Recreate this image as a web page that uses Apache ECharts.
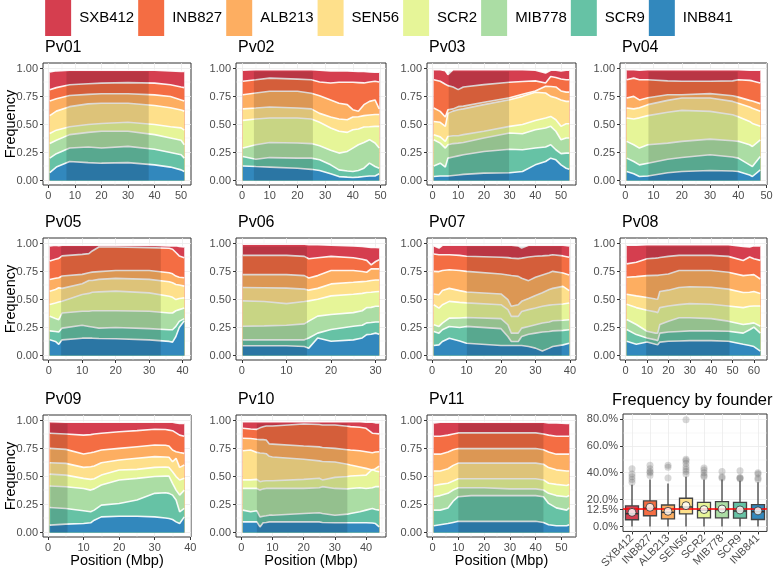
<!DOCTYPE html>
<html><head><meta charset="utf-8">
<script src="https://cdn.jsdelivr.net/npm/echarts@6/dist/echarts.min.js"></script>
<style>html,body{margin:0;padding:0;background:#fff}#c{width:778px;height:571px}</style>
</head><body><div id="c"></div>
<script>
// ---------- DATA ----------
const founders = ['SXB412','INB827','ALB213','SEN56','SCR2','MIB778','SCR9','INB841'];
const founderColors = ['#D53E4F','#F46D43','#FDAE61','#FEE08B','#E6F598','#ABDDA4','#66C2A5','#3288BD'];
// edge rows: upper edge of each founder band, bottom to top:
// INB841, SCR9, MIB778, SCR2, SEN56, ALB213, INB827, SXB412
const stackOrder = ['INB841','SCR9','MIB778','SCR2','SEN56','ALB213','INB827','SXB412'];
const chromNames = ['Pv01','Pv02','Pv03','Pv04','Pv05','Pv06','Pv07','Pv08','Pv09','Pv10','Pv11'];

const pv01_pos = [0.5, 3, 8, 15, 20, 30, 40, 46, 50, 51.2];
const pv01_edges = [
  [0.07, 0.12, 0.17, 0.16, 0.155, 0.16, 0.14, 0.12, 0.095, 0.08],
  [0.20, 0.24, 0.29, 0.30, 0.29, 0.305, 0.28, 0.25, 0.23, 0.20],
  [0.33, 0.36, 0.41, 0.43, 0.44, 0.44, 0.41, 0.38, 0.36, 0.32],
  [0.42, 0.45, 0.48, 0.50, 0.51, 0.52, 0.50, 0.48, 0.47, 0.45],
  [0.58, 0.62, 0.66, 0.685, 0.69, 0.69, 0.67, 0.65, 0.63, 0.62],
  [0.71, 0.73, 0.76, 0.77, 0.775, 0.775, 0.765, 0.75, 0.72, 0.71],
  [0.81, 0.83, 0.855, 0.865, 0.87, 0.875, 0.87, 0.855, 0.835, 0.83],
  [0.97, 0.98, 0.985, 0.985, 0.985, 0.985, 0.985, 0.98, 0.975, 0.975]
];
const pv02_pos = [0.3, 5, 10, 20, 25, 28, 32, 35, 38, 40, 42, 44, 46, 48, 49.5];
const pv02_edges = [
  [0.13, 0.125, 0.12, 0.11, 0.10, 0.09, 0.06, 0.035, 0.03, 0.027, 0.03, 0.036, 0.04, 0.04, 0.06],
  [0.215, 0.19, 0.205, 0.20, 0.20, 0.185, 0.14, 0.095, 0.085, 0.08, 0.09, 0.11, 0.155, 0.125, 0.11],
  [0.29, 0.32, 0.34, 0.335, 0.33, 0.31, 0.27, 0.245, 0.26, 0.29, 0.32, 0.34, 0.365, 0.335, 0.29],
  [0.537, 0.55, 0.558, 0.558, 0.55, 0.52, 0.47, 0.44, 0.43, 0.454, 0.46, 0.478, 0.48, 0.484, 0.484],
  [0.64, 0.648, 0.657, 0.648, 0.64, 0.60, 0.567, 0.55, 0.543, 0.567, 0.57, 0.58, 0.585, 0.59, 0.59],
  [0.767, 0.782, 0.797, 0.797, 0.78, 0.758, 0.72, 0.69, 0.678, 0.633, 0.618, 0.678, 0.707, 0.72, 0.64],
  [0.887, 0.90, 0.915, 0.906, 0.90, 0.88, 0.872, 0.878, 0.878, 0.878, 0.875, 0.872, 0.88, 0.887, 0.88],
  [0.985, 0.99, 0.99, 0.99, 0.99, 0.985, 0.98, 0.98, 0.978, 0.976, 0.975, 0.975, 0.97, 0.967, 0.967]
];
const pv03_pos = [0.5, 3, 5, 6, 8, 10, 12, 20, 30, 35, 40, 44, 46, 48, 50, 52, 53.2];
const pv03_edges = [
  [0.036, 0.04, 0.04, 0.04, 0.045, 0.05, 0.055, 0.066, 0.07, 0.08, 0.14, 0.17, 0.20, 0.185, 0.14, 0.11, 0.10],
  [0.13, 0.155, 0.12, 0.20, 0.21, 0.22, 0.23, 0.26, 0.28, 0.275, 0.29, 0.30, 0.32, 0.275, 0.24, 0.245, 0.245],
  [0.364, 0.334, 0.29, 0.32, 0.33, 0.334, 0.34, 0.38, 0.424, 0.418, 0.454, 0.47, 0.484, 0.44, 0.364, 0.38, 0.38],
  [0.41, 0.39, 0.35, 0.394, 0.40, 0.40, 0.41, 0.44, 0.484, 0.50, 0.537, 0.558, 0.573, 0.543, 0.484, 0.507, 0.507],
  [0.528, 0.52, 0.484, 0.60, 0.62, 0.633, 0.64, 0.678, 0.722, 0.752, 0.788, 0.782, 0.752, 0.74, 0.72, 0.707, 0.707],
  [0.648, 0.618, 0.567, 0.633, 0.64, 0.66, 0.665, 0.70, 0.74, 0.77, 0.80, 0.842, 0.84, 0.836, 0.80, 0.79, 0.79],
  [0.90, 0.887, 0.86, 0.848, 0.836, 0.812, 0.836, 0.857, 0.878, 0.885, 0.89, 0.872, 0.93, 0.92, 0.907, 0.90, 0.90],
  [0.99, 0.99, 0.98, 0.946, 0.99, 0.99, 0.99, 0.99, 0.99, 0.99, 0.985, 0.96, 0.985, 0.985, 0.98, 0.985, 0.985]
];
const pv04_pos = [0.5, 3, 5, 8, 15, 20, 30, 38, 40, 44, 45, 47.8];
const pv04_edges = [
  [0.08, 0.06, 0.036, 0.04, 0.07, 0.08, 0.09, 0.085, 0.08, 0.05, 0.036, 0.095],
  [0.20, 0.17, 0.14, 0.155, 0.19, 0.206, 0.23, 0.21, 0.20, 0.14, 0.125, 0.215],
  [0.35, 0.32, 0.29, 0.32, 0.334, 0.35, 0.37, 0.355, 0.35, 0.32, 0.304, 0.364],
  [0.558, 0.55, 0.56, 0.58, 0.61, 0.627, 0.618, 0.588, 0.57, 0.528, 0.51, 0.484],
  [0.648, 0.64, 0.65, 0.678, 0.716, 0.737, 0.737, 0.707, 0.69, 0.657, 0.645, 0.618],
  [0.737, 0.752, 0.72, 0.74, 0.767, 0.767, 0.776, 0.758, 0.745, 0.716, 0.71, 0.687],
  [0.90, 0.915, 0.90, 0.90, 0.89, 0.887, 0.887, 0.89, 0.90, 0.895, 0.89, 0.872],
  [0.99, 0.99, 0.985, 0.99, 0.99, 0.99, 0.99, 0.99, 0.99, 0.985, 0.985, 0.985]
];
const pv05_pos = [0.3, 2, 3, 4, 10, 12, 13, 15, 20, 30, 36, 37, 38, 39, 40.5];
const pv05_edges = [
  [0.14, 0.126, 0.10, 0.14, 0.155, 0.155, 0.155, 0.152, 0.15, 0.14, 0.126, 0.12, 0.17, 0.25, 0.31],
  [0.22, 0.215, 0.21, 0.245, 0.27, 0.26, 0.255, 0.245, 0.25, 0.24, 0.23, 0.23, 0.26, 0.305, 0.33],
  [0.35, 0.33, 0.32, 0.38, 0.395, 0.395, 0.40, 0.40, 0.40, 0.395, 0.38, 0.38, 0.40, 0.41, 0.425],
  [0.455, 0.47, 0.479, 0.485, 0.545, 0.555, 0.565, 0.569, 0.575, 0.56, 0.53, 0.52, 0.50, 0.51, 0.515],
  [0.575, 0.59, 0.605, 0.60, 0.641, 0.67, 0.67, 0.68, 0.689, 0.68, 0.659, 0.65, 0.635, 0.63, 0.62],
  [0.68, 0.69, 0.695, 0.71, 0.725, 0.74, 0.745, 0.75, 0.76, 0.76, 0.74, 0.73, 0.71, 0.70, 0.695],
  [0.845, 0.86, 0.868, 0.89, 0.904, 0.91, 0.934, 0.97, 0.97, 0.964, 0.958, 0.95, 0.92, 0.89, 0.874],
  [0.98, 0.985, 0.98, 0.985, 0.985, 0.985, 0.985, 0.985, 0.985, 0.985, 0.98, 0.98, 0.98, 0.975, 0.97]
];
const pv06_pos = [0.2, 5, 10, 14, 15, 17, 20, 25, 27, 28, 29, 30, 30.8];
const pv06_edges = [
  [0.087, 0.087, 0.087, 0.08, 0.066, 0.157, 0.127, 0.14, 0.157, 0.187, 0.19, 0.2, 0.19],
  [0.14, 0.14, 0.14, 0.14, 0.157, 0.20, 0.232, 0.262, 0.27, 0.292, 0.295, 0.30, 0.30],
  [0.262, 0.265, 0.27, 0.283, 0.307, 0.352, 0.367, 0.383, 0.40, 0.428, 0.43, 0.44, 0.44],
  [0.488, 0.482, 0.464, 0.482, 0.488, 0.503, 0.533, 0.548, 0.555, 0.563, 0.565, 0.57, 0.572],
  [0.608, 0.605, 0.602, 0.593, 0.584, 0.60, 0.64, 0.654, 0.66, 0.663, 0.67, 0.675, 0.675],
  [0.723, 0.723, 0.723, 0.714, 0.693, 0.714, 0.759, 0.759, 0.75, 0.744, 0.774, 0.774, 0.774],
  [0.895, 0.895, 0.895, 0.886, 0.864, 0.873, 0.886, 0.873, 0.86, 0.85, 0.81, 0.84, 0.855],
  [0.994, 0.994, 0.994, 0.994, 0.99, 0.99, 0.985, 0.98, 0.975, 0.97, 0.965, 0.965, 0.964]
];
const pv07_pos = [0.5, 2, 3, 5, 8, 10, 20, 22, 23, 25, 26, 28, 30, 32, 34, 35, 38, 39.8];
const pv07_edges = [
  [0.09, 0.095, 0.125, 0.155, 0.13, 0.11, 0.09, 0.09, 0.09, 0.09, 0.09, 0.08, 0.066, 0.04, 0.066, 0.08, 0.095, 0.11],
  [0.215, 0.20, 0.23, 0.26, 0.25, 0.26, 0.24, 0.17, 0.125, 0.125, 0.17, 0.19, 0.20, 0.21, 0.215, 0.22, 0.225, 0.23],
  [0.275, 0.26, 0.29, 0.334, 0.335, 0.34, 0.33, 0.275, 0.20, 0.20, 0.245, 0.26, 0.275, 0.29, 0.30, 0.31, 0.315, 0.32],
  [0.454, 0.424, 0.454, 0.484, 0.475, 0.47, 0.454, 0.41, 0.35, 0.35, 0.394, 0.41, 0.424, 0.44, 0.45, 0.454, 0.46, 0.47],
  [0.55, 0.543, 0.58, 0.60, 0.58, 0.567, 0.55, 0.50, 0.44, 0.454, 0.484, 0.51, 0.537, 0.56, 0.59, 0.60, 0.618, 0.58],
  [0.752, 0.75, 0.76, 0.767, 0.76, 0.752, 0.728, 0.72, 0.715, 0.707, 0.69, 0.669, 0.699, 0.72, 0.74, 0.752, 0.737, 0.72],
  [0.907, 0.90, 0.90, 0.90, 0.895, 0.887, 0.878, 0.875, 0.87, 0.866, 0.87, 0.88, 0.887, 0.89, 0.895, 0.90, 0.89, 0.878],
  [0.98, 0.96, 0.985, 0.985, 0.985, 0.985, 0.985, 0.985, 0.985, 0.98, 0.96, 0.985, 0.985, 0.985, 0.985, 0.985, 0.985, 0.98]
];
const pv08_pos = [0.5, 5, 10, 14, 15, 16, 20, 25, 30, 40, 48, 55, 58, 60, 63];
const pv08_edges = [
  [0.127, 0.10, 0.12, 0.10, 0.096, 0.12, 0.127, 0.13, 0.133, 0.133, 0.127, 0.10, 0.09, 0.08, 0.04],
  [0.232, 0.187, 0.157, 0.14, 0.133, 0.20, 0.21, 0.215, 0.22, 0.22, 0.217, 0.20, 0.23, 0.253, 0.20],
  [0.322, 0.277, 0.217, 0.20, 0.20, 0.277, 0.307, 0.337, 0.337, 0.33, 0.307, 0.277, 0.285, 0.292, 0.262],
  [0.458, 0.428, 0.404, 0.39, 0.383, 0.428, 0.443, 0.455, 0.464, 0.458, 0.443, 0.428, 0.44, 0.443, 0.443],
  [0.548, 0.533, 0.518, 0.505, 0.503, 0.572, 0.584, 0.608, 0.614, 0.61, 0.593, 0.563, 0.565, 0.572, 0.554],
  [0.70, 0.705, 0.714, 0.716, 0.716, 0.72, 0.729, 0.759, 0.759, 0.759, 0.744, 0.714, 0.72, 0.723, 0.684],
  [0.819, 0.834, 0.864, 0.87, 0.872, 0.876, 0.886, 0.895, 0.895, 0.895, 0.886, 0.849, 0.88, 0.864, 0.85],
  [0.985, 0.985, 0.99, 0.99, 0.99, 0.99, 0.99, 0.99, 0.99, 0.99, 0.99, 0.975, 0.97, 0.98, 0.98]
];
const pv09_pos = [0.5, 5, 10, 12, 13, 15, 20, 25, 30, 33, 34, 35, 36, 37, 38.3];
const pv09_edges = [
  [0.066, 0.075, 0.08, 0.087, 0.11, 0.14, 0.146, 0.145, 0.14, 0.13, 0.125, 0.116, 0.095, 0.08, 0.14],
  [0.224, 0.215, 0.194, 0.185, 0.20, 0.245, 0.26, 0.29, 0.35, 0.355, 0.35, 0.334, 0.29, 0.185, 0.215],
  [0.415, 0.409, 0.394, 0.379, 0.39, 0.424, 0.469, 0.484, 0.50, 0.504, 0.504, 0.44, 0.379, 0.334, 0.379],
  [0.522, 0.513, 0.484, 0.475, 0.48, 0.513, 0.558, 0.564, 0.582, 0.585, 0.582, 0.543, 0.50, 0.469, 0.484],
  [0.624, 0.618, 0.582, 0.588, 0.595, 0.624, 0.648, 0.663, 0.678, 0.675, 0.672, 0.633, 0.663, 0.582, 0.603],
  [0.752, 0.743, 0.702, 0.713, 0.72, 0.737, 0.752, 0.767, 0.782, 0.78, 0.773, 0.737, 0.722, 0.715, 0.707],
  [0.887, 0.88, 0.87, 0.875, 0.88, 0.887, 0.90, 0.91, 0.922, 0.92, 0.915, 0.91, 0.89, 0.87, 0.86],
  [0.99, 0.985, 0.985, 0.985, 0.985, 0.985, 0.985, 0.985, 0.985, 0.985, 0.985, 0.985, 0.98, 0.975, 0.975]
];
const pv10_pos = [0.5, 3, 5, 6, 7, 8, 9, 10, 20, 25, 26, 30, 34, 35, 38, 40, 42, 43, 44.2];
const pv10_edges = [
  [0.095, 0.095, 0.095, 0.05, 0.087, 0.09, 0.095, 0.095, 0.095, 0.095, 0.09, 0.087, 0.087, 0.087, 0.087, 0.087, 0.085, 0.08, 0.05],
  [0.20, 0.185, 0.194, 0.14, 0.146, 0.15, 0.155, 0.155, 0.17, 0.176, 0.17, 0.155, 0.164, 0.17, 0.185, 0.20, 0.215, 0.205, 0.20],
  [0.394, 0.394, 0.394, 0.379, 0.39, 0.394, 0.394, 0.394, 0.394, 0.40, 0.41, 0.394, 0.39, 0.394, 0.40, 0.394, 0.40, 0.41, 0.41],
  [0.47, 0.47, 0.475, 0.454, 0.46, 0.463, 0.463, 0.463, 0.475, 0.485, 0.47, 0.493, 0.50, 0.505, 0.51, 0.513, 0.564, 0.55, 0.543],
  [0.731, 0.737, 0.716, 0.71, 0.708, 0.704, 0.681, 0.675, 0.654, 0.64, 0.635, 0.63, 0.61, 0.603, 0.585, 0.573, 0.558, 0.57, 0.594],
  [0.842, 0.84, 0.833, 0.83, 0.83, 0.827, 0.791, 0.79, 0.773, 0.765, 0.76, 0.752, 0.74, 0.737, 0.73, 0.722, 0.713, 0.72, 0.722],
  [0.931, 0.925, 0.922, 0.935, 0.945, 0.952, 0.952, 0.952, 0.97, 0.965, 0.96, 0.961, 0.95, 0.946, 0.94, 0.931, 0.887, 0.885, 0.881],
  [0.99, 0.99, 0.99, 0.99, 0.99, 0.99, 0.99, 0.99, 0.99, 0.99, 0.99, 0.99, 0.99, 0.99, 0.99, 0.985, 0.985, 0.98, 0.98]
];
const pv11_pos = [0.5, 3, 6, 8, 10, 15, 20, 30, 40, 43, 45, 48, 52, 53];
const pv11_edges = [
  [0.06, 0.07, 0.08, 0.09, 0.10, 0.10, 0.10, 0.10, 0.10, 0.09, 0.07, 0.06, 0.06, 0.07],
  [0.20, 0.20, 0.22, 0.28, 0.32, 0.33, 0.33, 0.33, 0.33, 0.32, 0.26, 0.22, 0.20, 0.22],
  [0.32, 0.33, 0.35, 0.38, 0.40, 0.40, 0.40, 0.39, 0.39, 0.38, 0.35, 0.33, 0.32, 0.33],
  [0.42, 0.43, 0.44, 0.46, 0.48, 0.48, 0.48, 0.48, 0.48, 0.47, 0.44, 0.43, 0.42, 0.43],
  [0.55, 0.55, 0.57, 0.60, 0.62, 0.62, 0.62, 0.62, 0.62, 0.61, 0.58, 0.56, 0.55, 0.55],
  [0.70, 0.70, 0.72, 0.74, 0.75, 0.75, 0.75, 0.75, 0.75, 0.74, 0.72, 0.70, 0.70, 0.70],
  [0.86, 0.86, 0.87, 0.88, 0.89, 0.89, 0.89, 0.89, 0.89, 0.88, 0.87, 0.86, 0.86, 0.86],
  [0.98, 0.985, 0.985, 0.985, 0.985, 0.985, 0.985, 0.985, 0.985, 0.985, 0.98, 0.98, 0.975, 0.975]
];
// pericentromeric (shaded) region per chromosome, Mbp
const periStart = [6.8, 4.3, 6.3, 8.2, 3.7, 0.2, 10.1, 9.6, 0.7, 5.0, 10.0];
const periEnd   = [37.8, 25.6, 29.8, 39.8, 33.5, 14.6, 37.6, 48.6, 5.5, 34.0, 43.0];
const xTickLabels = [
  [0,10,20,30,40,50],[0,10,20,30,40,50],[0,10,20,30,40,50],[0,10,20,30,40,50],
  [0,10,20,30,40],[0,10,20,30],[0,10,20,30,40],[0,10,20,30,40,50,60],
  [0,10,20,30,40],[0,10,20,30,40],[0,10,20,30,40,50]
];
const yTickLabels = [0, 0.25, 0.5, 0.75, 1];

// Boxplot: frequency by founder (order = founders)
const boxMin = [0, 0, 0, 0, 0, 0, 0, 0];
const boxQ1  = [0.05, 0.08, 0.057, 0.094, 0.064, 0.064, 0.062, 0.052];
const boxMed = [0.095, 0.135, 0.105, 0.145, 0.12, 0.125, 0.115, 0.11];
const boxQ3  = [0.153, 0.19, 0.16, 0.21, 0.18, 0.185, 0.18, 0.162];
const boxMax = [0.31, 0.35, 0.32, 0.37, 0.35, 0.35, 0.34, 0.33];
const boxMean = [0.105, 0.143, 0.113, 0.155, 0.126, 0.13, 0.123, 0.116];
const outliers = [
  [0.33, 0.35, 0.37, 0.39, 0.43],
  [0.38, 0.40, 0.41, 0.43, 0.455],
  [0.36, 0.44, 0.455],
  [0.39, 0.41, 0.425, 0.445, 0.47, 0.49, 0.50, 0.795],
  [0.37, 0.38, 0.40, 0.42, 0.435],
  [0.36, 0.37, 0.41],
  [0.355, 0.36, 0.365, 0.415],
  [0.35, 0.36, 0.39, 0.40]
];
const boxYTicks = [0, 0.125, 0.2, 0.4, 0.6, 0.8];
const expectedFreq = 0.125;

// ---------- LAYOUT ----------
const chromPos = [pv01_pos,pv02_pos,pv03_pos,pv04_pos,pv05_pos,pv06_pos,pv07_pos,pv08_pos,pv09_pos,pv10_pos,pv11_pos];
const chromEdges = [pv01_edges,pv02_edges,pv03_edges,pv04_edges,pv05_edges,pv06_edges,pv07_edges,pv08_edges,pv09_edges,pv10_edges,pv11_edges];
const colLeft = [43, 236, 427, 620];
const colWidth = [148, 150, 149, 147];
const rowTop = [63, 238, 415];
const panelH = 122;
const FONT = '"Liberation Sans", Arial, Helvetica, sans-serif';
const colorOf = n => founderColors[founders.indexOf(n)];

const grids = [], xAxes = [], yAxes = [], series = [], titles = [], graphics = [];

chromNames.forEach((name, i) => {
  const r = Math.floor(i / 4), c = i % 4;
  const pos = chromPos[i], edges = chromEdges[i];
  const p0 = pos[0], p1 = pos[pos.length - 1], span = p1 - p0;
  grids.push({left: colLeft[c], top: rowTop[r], width: colWidth[c], height: panelH,
    show: true, borderColor: '#333', borderWidth: 1, backgroundColor: 'transparent'});
  xAxes.push({type: 'value', gridIndex: i, min: p0 - 0.05 * span, max: p1 + 0.05 * span,
    axisLine: {show: false, onZero: false},
    axisTick: {show: true, customValues: xTickLabels[i], length: 3, lineStyle: {color: '#333'}},
    axisLabel: {customValues: xTickLabels[i], fontSize: 11, color: '#4d4d4d', margin: 5, fontFamily: FONT},
    splitLine: {show: false}});
  yAxes.push({type: 'value', gridIndex: i, min: -0.04, max: 1.05,
    axisLine: {show: false, onZero: false},
    axisTick: {show: true, customValues: yTickLabels, length: 3, lineStyle: {color: '#333'}},
    axisLabel: {customValues: yTickLabels, fontSize: 11, color: '#4d4d4d', margin: 5, fontFamily: FONT,
      formatter: v => v.toFixed(2)},
    splitLine: {show: false}});
  titles.push({text: name, left: colLeft[c] + 2, top: rowTop[r] - 23, padding: 0,
    textStyle: {fontSize: 16, fontWeight: 'normal', color: '#000', fontFamily: FONT}});

  // grid lines (major + minor)
  const xt = xTickLabels[i];
  const glData = [];
  xt.forEach(v => glData.push({xAxis: v, lineStyle: {width: 0.8}}));
  xt.forEach(v => glData.push({xAxis: v + 5, lineStyle: {width: 0.4}}));
  yTickLabels.forEach(v => glData.push({yAxis: v, lineStyle: {width: 0.8}}));
  [0.125, 0.375, 0.625, 0.875].forEach(v => glData.push({yAxis: v, lineStyle: {width: 0.4}}));

  for (let j = stackOrder.length - 1; j >= 0; j--) {
    const fname = stackOrder[j];
    const s = {
      type: 'line', name: fname, xAxisIndex: i, yAxisIndex: i,
      data: pos.map((p, k) => [p, edges[j][k]]),
      symbol: 'none', showSymbol: false, z: 3, silent: true,
      color: colorOf(fname),
      lineStyle: {color: 'rgba(255,255,255,0.92)', width: 1.6},
      areaStyle: {color: colorOf(fname), opacity: 1},
      emphasis: {disabled: true}
    };
    if (j === stackOrder.length - 1) {
      s.markLine = {silent: true, symbol: ['none', 'none'], label: {show: false}, z: 1, animation: false,
        lineStyle: {color: '#ebebeb', type: 'solid'}, data: glData};
    }
    if (j === 0) {
      s.markArea = {silent: true, z: 20, animation: false,
        itemStyle: {color: 'rgba(0,0,0,0.13)'},
        data: [[{xAxis: periStart[i], yAxis: 0}, {xAxis: periEnd[i], yAxis: 0.975}]]};
    }
    series.push(s);
  }
});

// Row/col axis titles
rowTop.forEach(t => graphics.push({type: 'text', x: 11, y: t + panelH / 2, rotation: Math.PI / 2,
  style: {text: 'Frequency', font: '14.5px ' + FONT, fill: '#000', textAlign: 'center', textVerticalAlign: 'middle'}}));
[0, 1, 2].forEach(c => graphics.push({type: 'text', x: colLeft[c] + colWidth[c] / 2, y: 561,
  style: {text: 'Position (Mbp)', font: '14.5px ' + FONT, fill: '#000', textAlign: 'center', textVerticalAlign: 'middle'}}));

// ---------- Boxplot panel ----------
const bi = 11;
grids.push({left: 623, top: 414, width: 144, height: 119, show: true, borderColor: '#333', borderWidth: 1});
xAxes.push({type: 'category', gridIndex: bi, data: founders, boundaryGap: true,
  axisLine: {show: false, onZero: false},
  axisTick: {show: true, alignWithLabel: true, length: 3, lineStyle: {color: '#333'}},
  axisLabel: {rotate: 45, interval: 0, fontSize: 11, color: '#4d4d4d', margin: 5, fontFamily: FONT},
  splitLine: {show: false}});
yAxes.push({type: 'value', gridIndex: bi, min: -0.037, max: 0.837,
  axisLine: {show: false, onZero: false},
  axisTick: {show: true, customValues: boxYTicks, length: 3, lineStyle: {color: '#333'}},
  axisLabel: {customValues: boxYTicks, fontSize: 11, color: '#4d4d4d', margin: 5, fontFamily: FONT,
    formatter: v => (v * 100).toFixed(1) + '%'},
  splitLine: {show: false}});
titles.push({text: 'Frequency by founder', left: 612, top: 392, padding: 0,
  textStyle: {fontSize: 16.5, fontWeight: 'normal', color: '#000', fontFamily: FONT}});

const boxGrid = [];
boxYTicks.forEach(v => boxGrid.push({yAxis: v, lineStyle: {width: 0.8}}));
[0.0625, 0.1625, 0.3, 0.5, 0.7].forEach(v => boxGrid.push({yAxis: v, lineStyle: {width: 0.4}}));
founders.forEach((f, k) => boxGrid.push({xAxis: k, lineStyle: {width: 0.8}}));

series.push({
  type: 'custom', name: 'box', xAxisIndex: bi, yAxisIndex: bi, z: 3, silent: true,
  encode: {x: 0, y: [1, 2, 3, 4, 5]},
  data: founders.map((f, k) => [k, boxMin[k], boxQ1[k], boxMed[k], boxQ3[k], boxMax[k]]),
  renderItem: (params, api) => {
    const k = api.value(0);
    const pMin = api.coord([k, api.value(1)]);
    const pQ1 = api.coord([k, api.value(2)]);
    const pMed = api.coord([k, api.value(3)]);
    const pQ3 = api.coord([k, api.value(4)]);
    const pMax = api.coord([k, api.value(5)]);
    const half = 6.5;
    return {type: 'group', children: [
      {type: 'line', shape: {x1: pMin[0], y1: pMin[1], x2: pMax[0], y2: pMax[1]}, style: {stroke: '#333', lineWidth: 1.2}},
      {type: 'rect', shape: {x: pQ3[0] - half, y: pQ3[1], width: 2 * half, height: pQ1[1] - pQ3[1]},
        style: {fill: founderColors[k], stroke: '#444', lineWidth: 1.3}},
      {type: 'line', shape: {x1: pMed[0] - half, y1: pMed[1], x2: pMed[0] + half, y2: pMed[1]}, style: {stroke: '#333', lineWidth: 1.5}}
    ]};
  },
  markLine: {silent: true, symbol: ['none', 'none'], label: {show: false}, z: 1, animation: false,
    lineStyle: {color: '#ebebeb', type: 'solid'}, data: boxGrid}
});
const outlierData = [];
outliers.forEach((arr, k) => arr.forEach(v => outlierData.push([k, v])));
series.push({
  type: 'scatter', name: 'outliers', xAxisIndex: bi, yAxisIndex: bi, z: 4, silent: true,
  data: outlierData, symbol: 'circle', symbolSize: 7,
  itemStyle: {color: 'rgba(90,90,90,0.3)'},
  markLine: {silent: true, symbol: ['none', 'none'], label: {show: false}, z: 6, animation: false,
    lineStyle: {color: '#ff0000', width: 1.6, type: 'solid'}, data: [{yAxis: expectedFreq}]}
});
series.push({
  type: 'scatter', name: 'mean', xAxisIndex: bi, yAxisIndex: bi, z: 10, silent: true,
  data: boxMean.map((v, k) => [k, v]), symbol: 'circle', symbolSize: 8,
  itemStyle: {color: '#ffffff', borderColor: '#333', borderWidth: 1}
});

const option = {
  animation: false,
  backgroundColor: '#ffffff',
  textStyle: {fontFamily: FONT},
  title: titles,
  legend: {
    top: 0, left: 'center', padding: 0, icon: 'rect', itemWidth: 26, itemHeight: 36, itemGap: 4,
    selectedMode: false,
    textStyle: {fontSize: 15, color: '#000', fontFamily: FONT, padding: [0, 0, 0, 3]},
    data: founders.map((f, k) => ({name: f, itemStyle: {color: founderColors[k], borderWidth: 0}, lineStyle: {width: 0, opacity: 0}}))
  },
  grid: grids, xAxis: xAxes, yAxis: yAxes, series: series, graphic: graphics
};
const chart = echarts.init(document.getElementById('c'), null, {renderer: 'canvas'});
chart.setOption(option);
</script>
</body></html>
